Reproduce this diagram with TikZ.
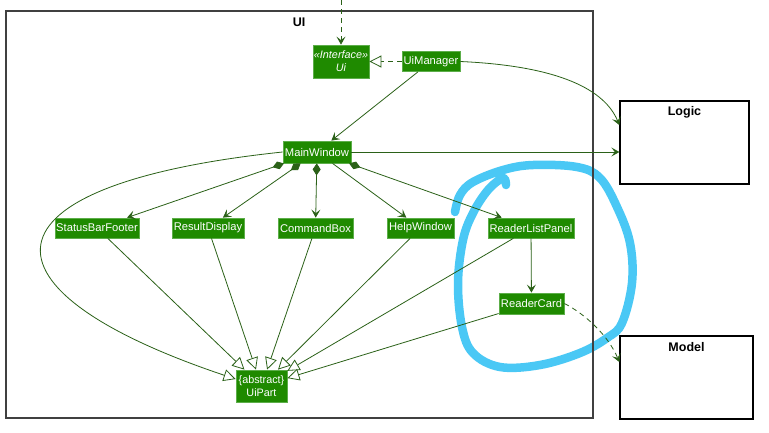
\documentclass[tikz,border=0pt]{standalone}
\usepackage{fontspec}
\setmainfont{Liberation Sans}
\usetikzlibrary{arrows.meta}
\definecolor{boxgreen}{HTML}{1F8A00}
\definecolor{boxedge}{HTML}{5DAE4A}
\definecolor{linkgreen}{HTML}{2B6118}
\definecolor{framegray}{HTML}{404040}
\definecolor{marker}{HTML}{4AC8F5}

\begin{document}
\begin{tikzpicture}[x=1pt,y=-1pt,
  cls/.style={draw=boxedge, fill=boxgreen, text=white, inner sep=0pt,
    line width=0.8pt, align=center, font=\fontsize{11.2}{12}\selectfont},
  pkg/.style={draw=black, line width=1.3pt, inner sep=0pt, fill=white},
  pkglabel/.style={font=\bfseries\fontsize{12.5}{14}\selectfont},
  link/.style={draw=linkgreen, line width=0.8pt},
  opentip/.style={-{Stealth[length=8pt,width=9pt,inset=3.5pt]}},
  inherit/.style={-{Triangle[open,length=12pt,width=12pt,fill=white]}},
  compose/.style={{Diamond[length=12pt,width=8pt]}-{Stealth[length=8pt,width=9pt,inset=3.5pt]}},
  dep/.style={dash pattern=on 5pt off 4pt}
]
\useasboundingbox (0,0) rectangle (769,432);
\fill[white] (0,0) rectangle (769,432);

% hand-drawn highlight around the reader components
\draw[marker, line width=8.5pt, line cap=round, line join=round]
  plot[smooth, tension=0.6] coordinates {
    (455,212) (460,195) (473,182) (503,170) (533,165) (577,167) (600,178)
    (617,207) (630,243) (632,283) (622,323) (607,338) (580,353) (540,365)
    (500,367) (473,353) (462,327) (458,283) (463,240) (473,213) (488,190)
    (503,178) (506,185)};

% package frames
\draw[framegray, line width=1.5pt] (6,11) rectangle (593,418);
\node[pkglabel] at (299,22) {UI};
\node[pkg, minimum width=129pt, minimum height=83pt] (logic) at (684.5,142.5) {};
\node[pkglabel] at (684.5,112) {Logic};
\node[pkg, minimum width=133pt, minimum height=83pt] (model) at (686.5,377.5) {};
\node[pkglabel] at (686.5,347) {Model};

% classes
\node[cls, minimum width=56pt, minimum height=33pt,
  font=\itshape\fontsize{10.8}{13}\selectfont] (iface) at (341,61.5) {«Interface»\\Ui};
\node[cls, minimum width=58pt, minimum height=20pt] (uim) at (431,61.5) {UiManager};
\node[cls, minimum width=68pt, minimum height=22pt] (mw) at (317,152) {MainWindow};
\node[cls, minimum width=84pt, minimum height=20pt] (sbf) at (97,228) {StatusBarFooter};
\node[cls, minimum width=72pt, minimum height=20pt] (rd) at (208,228) {ResultDisplay};
\node[cls, minimum width=75pt, minimum height=20pt] (cb) at (315.5,228) {CommandBox};
\node[cls, minimum width=67pt, minimum height=20pt] (hw) at (420.5,228) {HelpWindow};
\node[cls, minimum width=86pt, minimum height=20pt] (rlp) at (531,228) {ReaderListPanel};
\node[cls, minimum width=65pt, minimum height=21pt] (rc) at (531.5,303.5) {ReaderCard};
\node[cls, minimum width=51pt, minimum height=32pt,
  font=\fontsize{10.8}{13}\selectfont] (up) at (261.5,386) {\{abstract\}\\UiPart};

\coordinate (entry) at (341,0);

% connectors
\draw[link, dep, opentip] (entry) -- (iface);
\draw[link, dep, inherit] (uim) -- (iface);
\draw[link, opentip] (uim.east) .. controls (560,66) and (605,90) .. (logic.165);
\draw[link, opentip] (uim) -- (mw);
\draw[link, opentip] (mw.east) -- (mw.east -| logic.west);

\draw[link, compose] (mw) -- (sbf);
\draw[link, compose] (mw) -- (rd);
\draw[link, compose] (mw) -- (cb);
\draw[link, opentip] (mw) -- (hw);
\draw[link, compose] (mw) -- (rlp);
\draw[link, opentip] (rlp) -- (rc);

\draw[link, inherit] (mw.west) .. controls (-30,185) and (-30,290) .. (up.165);
\draw[link, inherit] (sbf) -- (up);
\draw[link, inherit] (rd) -- (up);
\draw[link, inherit] (cb) -- (up);
\draw[link, inherit] (hw) -- (up);
\draw[link, inherit] (rlp) -- (up);
\draw[link, inherit] (rc) -- (up);

\draw[link, dep, opentip] (rc.east) .. controls (585,314) and (608,335) .. (model.167);
\end{tikzpicture}
\end{document}
